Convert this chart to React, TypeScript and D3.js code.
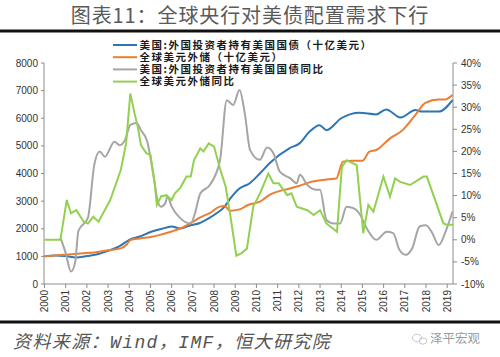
import React from 'react';
import * as d3 from 'd3';

// ---- data ----
const yearLabels = ['2000','2001','2002','2003','2004','2005','2006','2007','2008','2009','2010','2011','2012','2013','2014','2015','2016','2017','2018','2019'];
const leftTicks = [0,1000,2000,3000,4000,5000,6000,7000,8000];
const rightTicks = [-10,-5,0,5,10,15,20,25,30,35,40];

// 美国:外国投资者持有美国国债（十亿美元） [time, value]
const foreignHoldings: [number, number][] = [
  [2000,1000],[2000.5,1030],[2001,1010],[2001.5,960],[2002,1010],[2002.5,1080],[2003,1200],[2003.5,1350],
  [2004,1600],[2004.5,1720],[2005,1880],[2005.5,1990],[2006,2080],[2006.4,2010],[2006.9,2130],[2007.3,2200],
  [2007.8,2400],[2008.1,2550],[2008.5,2800],[2008.77,3100],[2009.2,3460],[2009.67,3640],[2010.16,4000],
  [2010.63,4380],[2011.57,4920],[2012.03,5090],[2012.5,5510],[2012.98,5750],[2013.3,5570],[2014,6000],
  [2014.86,6200],[2015.65,6140],[2016.12,6320],[2016.8,6030],[2017.5,6300],[2017.8,6240],[2018.6,6240],[2019.25,6660]
];
// 全球美元外储（十亿美元）
const usdReserves: [number, number][] = [
  [2000,1000],[2000.75,1050],[2001.4,1085],[2002,1120],[2002.6,1170],[2003,1220],[2003.6,1290],[2003.9,1450],
  [2004.05,1590],[2004.5,1650],[2005,1700],[2005.4,1770],[2006,1900],[2006.4,2010],[2007,2250],[2007.3,2390],
  [2007.8,2570],[2008.28,2800],[2008.5,2820],[2008.75,2650],[2009.2,2700],[2009.6,2860],[2010.16,2980],
  [2010.6,3220],[2011.57,3460],[2012,3550],[2012.6,3700],[2013.4,3790],[2013.77,3820],[2014.08,4430],
  [2014.5,4460],[2015,4460],[2015.33,4790],[2015.65,4850],[2016.3,5270],[2016.9,5570],[2017.5,6120],
  [2017.97,6560],[2018.6,6680],[2018.9,6680],[2019.25,6840]
];
// 美国:外国投资者持有美国国债同比 (%)
const holdingsYoY: [number, number][] = [
  [2000.75,0.5],[2001,-3],[2001.25,-7.2],[2001.45,-5],[2001.6,2],[2002.05,5],[2002.35,17],[2002.6,20],
  [2002.85,18.8],[2003.3,22.2],[2003.55,21.4],[2003.8,22.6],[2004.05,26],[2004.35,26.4],[2004.55,24.8],
  [2004.85,22.2],[2005.15,14.3],[2005.35,8.6],[2005.5,7.5],[2005.7,8.3],[2005.8,9.8],[2006,7.5],[2006.4,4.9],
  [2006.9,3.7],[2007.1,6],[2007.35,10.5],[2007.8,12.4],[2008.28,18],[2008.6,31.6],[2008.9,30.5],[2009.2,33.9],
  [2009.45,28.6],[2009.7,20.3],[2010.16,18.1],[2010.5,20.9],[2010.8,19.6],[2011.1,15.4],[2011.6,13.9],
  [2011.9,12.8],[2012.05,14.7],[2012.4,12.4],[2012.85,11.3],[2013,11.3],[2013.3,4.5],[2013.65,3.7],
  [2013.95,3.7],[2014.25,7.5],[2014.6,7.1],[2014.9,5.6],[2015.2,2.6],[2015.65,0],[2016.15,1.8],[2016.45,1.5],
  [2016.75,-2.3],[2017.05,-3.4],[2017.35,-1.9],[2017.7,3],[2018,3.3],[2018.3,1.5],[2018.6,-1.2],[2018.95,2.2],[2019.25,6.4]
];
// 全球美元外储同比 (%)
const reservesYoY: [number, number][] = [
  [2000,0],[2000.75,0],[2001.05,9],[2001.25,6],[2001.5,6.7],[2001.85,4.1],[2002.05,3.7],[2002.3,5.2],[2002.55,4.1],
  [2003.1,9],[2003.6,15.8],[2003.85,21.8],[2004.05,33.1],[2004.25,28.6],[2004.4,25.6],[2004.55,21.4],[2004.8,19.6],
  [2005,19.2],[2005.2,12.8],[2005.3,7.9],[2005.5,9.8],[2005.75,10.1],[2006,9],[2006.15,10.5],[2006.4,11.7],
  [2006.7,14.3],[2006.9,14.3],[2007.05,18],[2007.35,20.7],[2007.5,20],[2007.75,21.8],[2008,21.1],[2008.3,15.8],
  [2008.55,12],[2008.8,4.5],[2009.05,-3.6],[2009.3,-3],[2009.55,-2],[2009.85,7.5],[2010.17,10.5],[2010.56,15],
  [2010.8,12.8],[2011.05,12.8],[2011.45,10.1],[2011.65,10.5],[2011.9,7.5],[2012.4,6.7],[2012.7,5.6],[2013,6.7],
  [2013.3,3.7],[2013.8,1.8],[2014.03,16.5],[2014.26,18],[2014.73,16.9],[2015.04,1.5],[2015.28,7.9],[2015.52,6.4],
  [2015.99,14.3],[2016.3,9.8],[2016.54,13.9],[2016.78,13.1],[2017.25,12.4],[2017.88,14.3],[2018.04,14.3],
  [2018.82,3.7],[2018.98,3.4],[2019.29,3.4]
];

const legendLabels = [
  '美国:外国投资者持有美国国债（十亿美元）',
  '全球美元外储（十亿美元）',
  '美国:外国投资者持有美国国债同比',
  '全球美元外储同比',
];
const colors = ['#2E75B6', '#ED7D31', '#A5A5A5', '#92D050'];

export default function App() {
  const W = 500, H = 357;
  const x = d3.scaleLinear().domain([2000, 2019.25]).range([44.5, 452.5]);
  const yL = d3.scaleLinear().domain([0, 8000]).range([284, 63]);
  const yR = d3.scaleLinear().domain([-10, 40]).range([284, 63]);
  const left = 44, right = 453, bottom = 284;

  const lineL = d3.line<[number, number]>().x(d => x(d[0])).y(d => yL(d[1])).curve(d3.curveMonotoneX);
  const lineRs = d3.line<[number, number]>().x(d => x(d[0])).y(d => yR(d[1])).curve(d3.curveMonotoneX);
  const lineR = d3.line<[number, number]>().x(d => x(d[0])).y(d => yR(d[1]));

  const axisColor = '#8c8c8c';
  const tickFont = "'Liberation Sans', Arial, sans-serif";
  const cjk = "'Noto Sans CJK SC', sans-serif";

  return (
    <svg width={W} height={H} viewBox={`0 0 ${W} ${H}`} style={{ position: 'absolute', left: 0, top: 0, background: '#fff' }}>
      <rect x={0} y={0} width={W} height={H} fill="#fff" />
      {/* title */}
      <text x={250} y={23} textAnchor="middle" fontFamily={cjk} fontSize={20} letterSpacing={0.9} fill="#5a5a5a">图表11：全球央行对美债配置需求下行</text>
      <line x1={0} x2={500} y1={31} y2={31} stroke="#111" strokeWidth={3} />

      {/* axes */}
      <line x1={left} x2={left} y1={63} y2={bottom} stroke={axisColor} />
      <line x1={right} x2={right} y1={63} y2={bottom} stroke={axisColor} />
      <line x1={left} x2={right} y1={bottom} y2={bottom} stroke={axisColor} />
      {leftTicks.map(t => (
        <g key={'l' + t}>
          <line x1={left - 3} x2={left} y1={yL(t)} y2={yL(t)} stroke={axisColor} />
          <text x={38} y={yL(t)} dy="0.35em" textAnchor="end" fontFamily={tickFont} fontSize={10} fill="#333">{t}</text>
        </g>
      ))}
      {rightTicks.map(t => (
        <g key={'r' + t}>
          <line x1={right} x2={right + 4} y1={yR(t)} y2={yR(t)} stroke={axisColor} />
          <text x={461} y={yR(t)} dy="0.35em" textAnchor="start" fontFamily={tickFont} fontSize={10} fill="#333">{t + '%'}</text>
        </g>
      ))}
      {yearLabels.map(lab => {
        const xp = x(+lab);
        return (
          <g key={'x' + lab}>
            <line x1={xp} x2={xp} y1={bottom} y2={bottom + 4} stroke={axisColor} />
            <text transform={`translate(${xp + 3.5},${bottom + 6}) rotate(-90)`} textAnchor="end" fontFamily={tickFont} fontSize={10} fill="#333">{lab}</text>
          </g>
        );
      })}

      {/* series */}
      <path d={lineL(foreignHoldings) || ''} fill="none" stroke={colors[0]} strokeWidth={2} />
      <path d={lineL(usdReserves) || ''} fill="none" stroke={colors[1]} strokeWidth={2} />
      <path d={lineRs(holdingsYoY) || ''} fill="none" stroke={colors[2]} strokeWidth={2} />
      <path d={lineR(reservesYoY) || ''} fill="none" stroke={colors[3]} strokeWidth={2} />

      {/* legend */}
      {legendLabels.map((lab, i) => {
        const yy = 45 + i * 12.2;
        return (
          <g key={'lg' + i}>
            <line x1={113} x2={137} y1={yy} y2={yy} stroke={colors[i]} strokeWidth={2} />
            <text x={139.5} y={yy} dy="0.36em" fontFamily={cjk} fontWeight="bold" fontSize={10.5} letterSpacing={1.5} fill="#1a1a1a">{lab}</text>
          </g>
        );
      })}

      {/* footer */}
      <line x1={0} x2={500} y1={322} y2={322} stroke="#111" strokeWidth={3} />
      <text x={13} y={348} fontFamily="'Liberation Mono', 'Noto Sans CJK SC', monospace" fontStyle="italic" fontSize={18} letterSpacing={1.4} fill="#555">资料来源：Wind，IMF，恒大研究院</text>
      <g opacity={0.55}>
        <ellipse cx={417} cy={338} rx={4.5} ry={3.8} fill="none" stroke="#999" strokeWidth={1} />
        <ellipse cx={423} cy={341} rx={3.8} ry={3.2} fill="none" stroke="#999" strokeWidth={1} />
      </g>
      <text x={430} y={342.5} fontFamily={cjk} fontSize={12.5} fill="#9a9a9a">泽平宏观</text>
    </svg>
  );
}
